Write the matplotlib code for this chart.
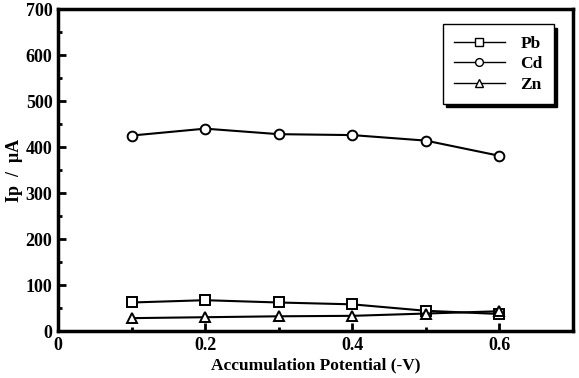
import numpy as np
import matplotlib
matplotlib.use('Agg')
import matplotlib.pyplot as plt
from matplotlib.ticker import MultipleLocator

potential = [0.1, 0.2, 0.3, 0.4, 0.5, 0.6]
pb = [62, 67, 62, 58, 44, 37]
cd = [425, 440, 428, 426, 414, 381]
zn = [28, 30, 32, 33, 38, 43]

plt.rcParams['font.family'] = 'Liberation Serif'
plt.rcParams['font.weight'] = 'bold'

fig = plt.figure(figsize=(5.79, 3.78), dpi=100)
ax = fig.add_axes([0.1002, 0.1243, 0.8894, 0.8517])

style = dict(color='black', lw=1.5, mfc='white', mec='black', mew=1.4, ms=7)
ax.plot(potential, pb, marker='s', label='Pb', **style)
ax.plot(potential, cd, marker='o', label='Cd', **style)
ax.plot(potential, zn, marker='^', label='Zn', **style)

ax.set_xlim(0, 0.7)
ax.set_ylim(0, 700)
ax.xaxis.set_major_locator(MultipleLocator(0.2))
ax.xaxis.set_minor_locator(MultipleLocator(0.1))
ax.yaxis.set_major_locator(MultipleLocator(100))
ax.yaxis.set_minor_locator(MultipleLocator(50))
ax.set_xticks([0, 0.2, 0.4, 0.6])
ax.set_xticklabels(['0', '0.2', '0.4', '0.6'])

ax.tick_params(which='major', direction='in', length=6, width=2, labelsize=13, pad=4)
ax.tick_params(which='minor', direction='in', length=3, width=2)
ax.tick_params(top=False, right=False, which='both')
for s in ax.spines.values():
    s.set_linewidth(2.5)

ax.set_xlabel('Accumulation Potential (-V)', fontsize=12.5, fontweight='bold', labelpad=3)
ax.set_ylabel('Ip  /  \u03bcA', fontsize=13, fontweight='bold', labelpad=2)

leg = ax.legend(loc='upper right', bbox_to_anchor=(0.963, 0.953), frameon=True,
                fancybox=False, shadow={'color': 'black', 'alpha': 1, 'ox': 2.5, 'oy': -2.5},
                edgecolor='black', fontsize=12.5, handlelength=2.9, borderpad=0.65,
                borderaxespad=0, labelspacing=0.25, handletextpad=0.9, markerscale=0.8)
leg.get_frame().set_linewidth(1.0)
for h in leg.get_lines():
    h.set_linewidth(1.0)
    h.set_markeredgewidth(1.0)

fig.savefig('out.png', dpi=100)
